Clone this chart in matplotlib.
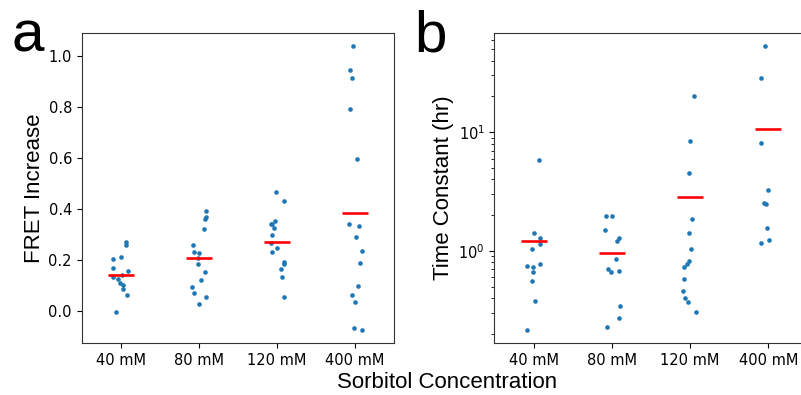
import numpy as np
import matplotlib
matplotlib.use("Agg")
import matplotlib.pyplot as plt

categories = ["40 mM", "80 mM", "120 mM", "400 mM"]

# Panel a: FRET increase values per group, with horizontal jitter
fret_40 = [0.270, 0.259, 0.204, 0.212, 0.170, 0.157, 0.135, 0.140, 0.127, 0.111, 0.101, 0.085, 0.064, -0.003]
fret_40_jit = [0.072, 0.068, -0.098, 0.009, -0.098, 0.094, -0.098, 0.021, -0.034, -0.004, 0.034, 0.034, 0.085, -0.055]
fret_80 = [0.393, 0.370, 0.363, 0.321, 0.259, 0.231, 0.228, 0.207, 0.186, 0.152, 0.122, 0.093, 0.071, 0.054, 0.026]
fret_80_jit = [0.094, 0.089, 0.077, 0.072, -0.077, -0.055, 0.0, -0.009, -0.013, 0.077, 0.034, -0.085, -0.060, 0.094, 0.0]
fret_120 = [0.467, 0.432, 0.355, 0.343, 0.341, 0.324, 0.299, 0.267, 0.246, 0.233, 0.194, 0.186, 0.163, 0.132, 0.056]
fret_120_jit = [-0.013, 0.098, -0.021, -0.072, -0.064, -0.038, -0.055, -0.072, 0.004, -0.055, 0.098, 0.098, 0.055, 0.072, 0.098]
fret_400 = [1.039, 0.946, 0.917, 0.793, 0.596, 0.342, 0.332, 0.290, 0.236, 0.187, 0.098, 0.063, 0.034, -0.068, -0.075]
fret_400_jit = [-0.021, -0.064, -0.034, -0.055, 0.030, -0.077, 0.060, 0.013, 0.094, 0.068, 0.047, -0.034, 0.004, -0.004, 0.098]
fret_means = [0.142, 0.206, 0.270, 0.384]

# Panel b: time constants (hr)
tc_40 = [5.85, 1.427, 1.279, 1.146, 1.04, 0.782, 0.752, 0.738, 0.665, 0.562, 0.377, 0.216]
tc_40_jit = [0.064, 0.0, 0.085, 0.081, -0.021, 0.085, -0.081, -0.013, -0.004, -0.021, 0.013, -0.081]
tc_80 = [1.972, 1.972, 1.503, 1.287, 1.222, 0.856, 0.705, 0.670, 0.674, 0.346, 0.274, 0.229]
tc_80_jit = [-0.077, 0.0, -0.085, 0.085, 0.064, 0.051, -0.051, -0.017, 0.089, 0.098, 0.085, -0.068]
tc_120 = [20.1, 8.45, 4.57, 1.849, 1.427, 1.04, 0.829, 0.782, 0.733, 0.577, 0.457, 0.402, 0.369, 0.304]
tc_120_jit = [0.055, -0.004, -0.009, 0.021, -0.013, 0.013, -0.013, -0.034, -0.081, -0.081, -0.089, -0.060, -0.030, 0.073]
tc_400 = [52.7, 28.5, 8.13, 3.25, 2.54, 2.47, 1.56, 1.168, 1.23]
tc_400_jit = [-0.038, -0.089, -0.089, -0.009, -0.051, -0.026, -0.017, -0.094, 0.004]
tc_means = [1.214, 0.956, 2.87, 10.7]

fret_groups = [(fret_40, fret_40_jit), (fret_80, fret_80_jit), (fret_120, fret_120_jit), (fret_400, fret_400_jit)]
tc_groups = [(tc_40, tc_40_jit), (tc_80, tc_80_jit), (tc_120, tc_120_jit), (tc_400, tc_400_jit)]

label_font = ["Liberation Sans", "DejaVu Sans"]
dot_color = "#1f77b4"

fig = plt.figure(figsize=(8.01, 3.95), dpi=100)
ax1 = fig.add_axes([81.7 / 801, (395 - 343) / 395, 312 / 801, 310.3 / 395])
ax2 = fig.add_axes([494.5 / 801, (395 - 343) / 395, 313 / 801, 310.3 / 395])

def draw(ax, groups, means):
    for i, (vals, jit) in enumerate(groups):
        xs = i + np.asarray(jit)
        ax.scatter(xs, vals, s=11, color=dot_color, linewidths=0, zorder=2)
        ax.plot([i - 0.167, i + 0.167], [means[i], means[i]], color="red", lw=1.9,
                solid_capstyle="butt", zorder=3)
    ax.set_xlim(-0.5, 3.5)
    ax.set_xticks(range(len(categories)))
    ax.set_xticklabels(categories)
    ax.tick_params(labelsize=10.5)

draw(ax1, fret_groups, fret_means)
ax1.set_ylim(-0.126, 1.093)
ax1.set_yticks([0.0, 0.2, 0.4, 0.6, 0.8, 1.0])

draw(ax2, tc_groups, tc_means)
ax2.set_yscale("log")
ax2.set_ylim(0.168, 68.7)

for ax in (ax1, ax2):
    for sp in ax.spines.values():
        sp.set_color("#333333")

fig.text(35 / 801, 0.5 + (395 / 2 - 188) / 395, "FRET Increase", rotation=90,
         ha="center", va="center", fontsize=16, family=label_font)
fig.text(443 / 801, 0.5 + (395 / 2 - 188) / 395, "Time Constant (hr)", rotation=90,
         ha="center", va="center", fontsize=16, family=label_font)
fig.text(447 / 801, (395 - 383) / 395, "Sorbitol Concentration",
         ha="center", va="center", fontsize=16, family=label_font)
fig.text(12 / 801, (395 - 52) / 395, "a", ha="left", va="baseline", fontsize=42, family=label_font)
fig.text(414 / 801, (395 - 52) / 395, "b", ha="left", va="baseline", fontsize=42, family=label_font)

fig.savefig("out.png", dpi=100)
